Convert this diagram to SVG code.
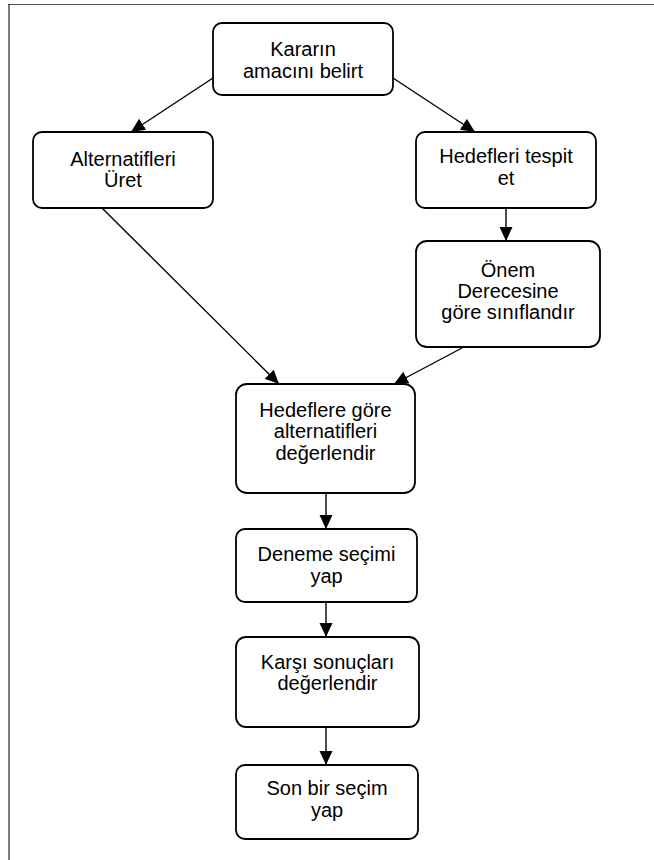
<svg xmlns="http://www.w3.org/2000/svg" width="654" height="860" viewBox="0 0 654 860">
<style>
.box{fill:#fff;stroke:#000;stroke-width:1.8}
.lbl{font-family:"Liberation Sans",Arial,sans-serif;font-size:20px;fill:#000;text-anchor:middle}
.con{stroke:#000;stroke-width:1.4;fill:none;marker-end:url(#ah)}
</style>
<defs>
<marker id="ah" markerUnits="userSpaceOnUse" markerWidth="15" markerHeight="14" refX="14" refY="6.5" orient="auto">
<path d="M0,0 L14,6.5 L0,13 z" fill="#000"/>
</marker>
</defs>
<rect width="654" height="860" fill="#fff"/>
<line x1="8" y1="4.5" x2="654" y2="4.5" stroke="#555" stroke-width="1.2"/>
<line x1="9" y1="4" x2="9" y2="860" stroke="#222" stroke-width="1.2"/>
<g id="connectors">
<line class="con" x1="213" y1="78" x2="131" y2="132"/>
<line class="con" x1="393" y1="78" x2="475" y2="132"/>
<line class="con" x1="506" y1="208" x2="506" y2="241"/>
<line class="con" x1="102" y1="208" x2="279" y2="384"/>
<line class="con" x1="462" y1="348" x2="394" y2="384"/>
<line class="con" x1="326" y1="493" x2="326" y2="529"/>
<line class="con" x1="326" y1="602" x2="326" y2="637"/>
<line class="con" x1="326" y1="727" x2="326" y2="765"/>
</g>
<g id="n1"><rect class="box" x="213" y="23" width="180" height="72" rx="9"/>
<text class="lbl" x="303" y="56">Kararın</text><text class="lbl" x="303" y="78">amacını belirt</text></g>
<g id="n2"><rect class="box" x="33" y="132" width="180" height="76" rx="9"/>
<text class="lbl" x="123" y="166">Alternatifleri</text><text class="lbl" x="123" y="187">Üret</text></g>
<g id="n3"><rect class="box" x="416" y="132" width="180" height="76" rx="9"/>
<text class="lbl" x="506" y="163">Hedefleri tespit</text><text class="lbl" x="506" y="185">et</text></g>
<g id="n4"><rect class="box" x="416" y="241" width="184" height="106" rx="11"/>
<text class="lbl" x="508" y="277">Önem</text><text class="lbl" x="508" y="298">Derecesine</text><text class="lbl" x="508" y="319">göre sınıflandır</text></g>
<g id="n5"><rect class="box" x="236" y="384" width="179" height="109" rx="11"/>
<text class="lbl" x="325.5" y="417">Hedeflere göre</text><text class="lbl" x="325.5" y="438">alternatifleri</text><text class="lbl" x="325.5" y="460">değerlendir</text></g>
<g id="n6"><rect class="box" x="236" y="529" width="181" height="73" rx="9"/>
<text class="lbl" x="326.5" y="561">Deneme seçimi</text><text class="lbl" x="326.5" y="583">yap</text></g>
<g id="n7"><rect class="box" x="236" y="637" width="183" height="90" rx="10"/>
<text class="lbl" x="327.5" y="669">Karşı sonuçları</text><text class="lbl" x="327.5" y="690">değerlendir</text></g>
<g id="n8"><rect class="box" x="236" y="765" width="182" height="74" rx="9"/>
<text class="lbl" x="327" y="795">Son bir seçim</text><text class="lbl" x="327" y="817">yap</text></g>
</svg>
